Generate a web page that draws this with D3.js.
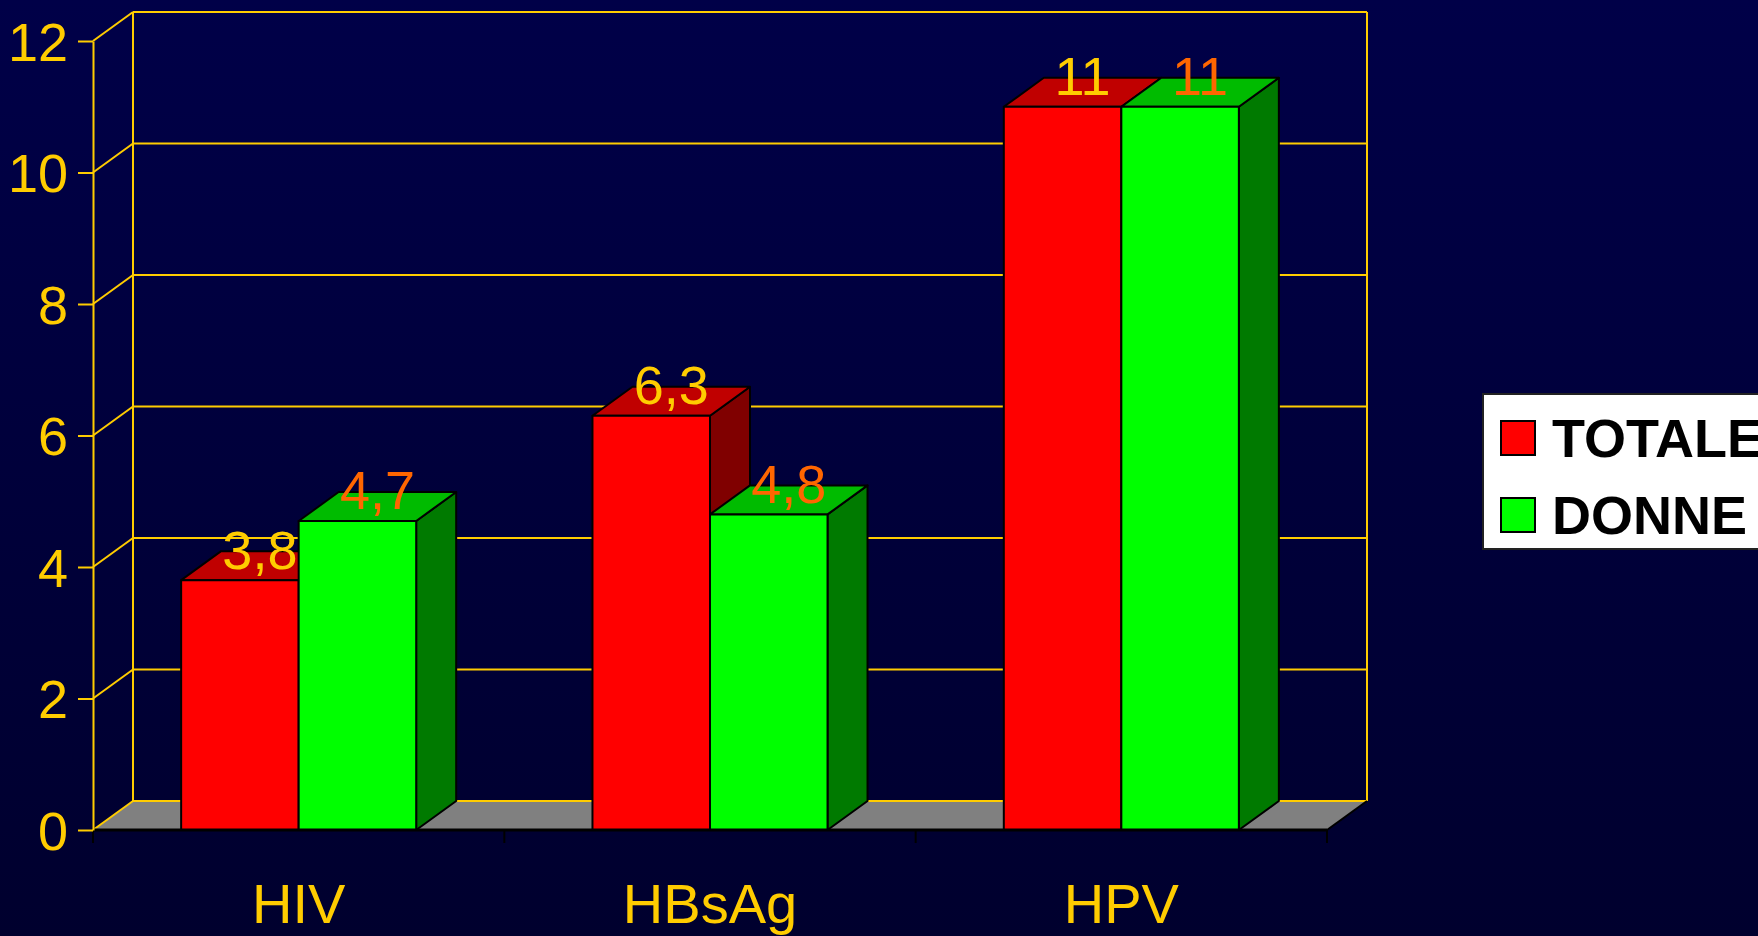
<!DOCTYPE html>
<html>
<head>
<meta charset="utf-8">
<script src="https://cdn.jsdelivr.net/npm/d3@7"></script>
<style>
  html, body { margin: 0; padding: 0; background: #000038; overflow: hidden; }
  svg { display: block; }
</style>
</head>
<body>
<div id="chart"></div>
<script>
// ---- data ----
const categories = ["HIV", "HBsAg", "HPV"];
const seriesNames = ["TOTALE", "DONNE"];
const totaleValues = [3.8, 6.3, 11];
const donneValues = [4.7, 4.8, 11];
const tickValues = [0, 2, 4, 6, 8, 10, 12];

// ---- layout ----
const W = 1758, H = 936;
const DX = 40, DY = 29;           // 3D depth offset
const plotLeft = 93, plotRight = 1327;
const yBottom = 830, yTop = 41;

const seriesValues = [totaleValues, donneValues];
const frontColors = ["#FF0000", "#00FF00"];
const topColors = ["#C00000", "#00BB00"];
const sideColors = ["#800000", "#007A00"];
const labelColors = ["#FFCC00", "#FF6600"];
const gold = "#FFCC00";
const labelFont = "'Liberation Sans', Arial, sans-serif";

const itLocale = d3.formatLocale({decimal: ",", thousands: ".", grouping: [3], currency: ["", "€"]});
const fmt = itLocale.format(".2~r");

const svg = d3.select("#chart").append("svg").attr("width", W).attr("height", H);

const defs = svg.append("defs");
const grad = defs.append("linearGradient").attr("id", "bg").attr("x1", 0).attr("y1", 0).attr("x2", 0).attr("y2", 1);
grad.append("stop").attr("offset", "0%").attr("stop-color", "#000048");
grad.append("stop").attr("offset", "100%").attr("stop-color", "#00002E");
svg.append("rect").attr("width", W).attr("height", H).attr("fill", "url(#bg)");

const y = d3.scaleLinear().domain([0, 12]).range([yBottom, yTop]);
const x0 = d3.scaleBand().domain(categories).range([plotLeft, plotRight]).padding(0);
const x1 = d3.scaleBand().domain(seriesNames).range([0, x0.bandwidth()]).paddingInner(0).paddingOuter(0.75);

// ---- floor ----
svg.append("polygon")
  .attr("points", [[plotLeft, y(0)], [plotRight, y(0)], [plotRight + DX, y(0) - DY], [plotLeft + DX, y(0) - DY]].map(p => p.join(",")).join(" "))
  .attr("fill", "#808080");

// ---- back wall grid ----
const grid = svg.append("g").attr("stroke", gold).attr("stroke-width", 2).attr("fill", "none");
grid.selectAll("line.h").data(tickValues).join("line").attr("class", "h")
  .attr("x1", plotLeft + DX).attr("x2", plotRight + DX)
  .attr("y1", d => y(d) - DY).attr("y2", d => y(d) - DY);
grid.selectAll("line.d").data(tickValues).join("line").attr("class", "d")
  .attr("x1", plotLeft).attr("x2", plotLeft + DX)
  .attr("y1", d => y(d)).attr("y2", d => y(d) - DY);
grid.append("line").attr("x1", plotLeft + DX).attr("x2", plotLeft + DX).attr("y1", y(0) - DY).attr("y2", y(12) - DY);
grid.append("line").attr("x1", plotRight + DX).attr("x2", plotRight + DX).attr("y1", y(0) - DY).attr("y2", y(12) - DY);

// floor black edges
svg.append("line").attr("x1", plotRight).attr("y1", y(0)).attr("x2", plotRight + DX).attr("y2", y(0) - DY)
  .attr("stroke", "#000").attr("stroke-width", 2);

// ---- bars ----
const barsG = svg.append("g").attr("stroke", "#000").attr("stroke-width", 2).attr("stroke-linejoin", "round");
categories.forEach((cat, i) => {
  seriesNames.forEach((s, j) => {
    const v = seriesValues[j][i];
    const x = x0(cat) + x1(s), w = x1.bandwidth();
    const yt = y(v), yb = y(0);
    const g = barsG.append("g");
    g.append("polygon").attr("fill", sideColors[j])
      .attr("points", [[x + w, yt], [x + w + DX, yt - DY], [x + w + DX, yb - DY], [x + w, yb]].map(p => p.join(",")).join(" "));
    g.append("polygon").attr("fill", topColors[j])
      .attr("points", [[x, yt], [x + w, yt], [x + w + DX, yt - DY], [x + DX, yt - DY]].map(p => p.join(",")).join(" "));
    g.append("rect").attr("fill", frontColors[j]).attr("x", x).attr("y", yt).attr("width", w).attr("height", yb - yt);
  });
});

// front floor edge + category ticks
svg.append("line").attr("x1", plotLeft).attr("x2", plotRight).attr("y1", y(0)).attr("y2", y(0))
  .attr("stroke", "#000").attr("stroke-width", 3);
const catBounds = categories.map(c => x0(c)).concat([plotRight]);
svg.selectAll("line.ct").data(catBounds).join("line").attr("class", "ct")
  .attr("x1", d => d).attr("x2", d => d).attr("y1", y(0)).attr("y2", y(0) + 13)
  .attr("stroke", "#000").attr("stroke-width", 2);

// ---- y axis ----
const yAxis = d3.axisLeft(y).tickValues(tickValues).tickSize(15).tickSizeOuter(0).tickPadding(10).tickFormat(d3.format("d"));
const ax = svg.append("g").attr("transform", `translate(${plotLeft},0)`).call(yAxis);
ax.select(".domain").attr("stroke", gold).attr("stroke-width", 2);
ax.selectAll(".tick line").attr("stroke", gold).attr("stroke-width", 2);
ax.selectAll(".tick text").attr("fill", gold).attr("font-size", 54).attr("font-family", labelFont).attr("dy", "0.36em");

// ---- value labels ----
categories.forEach((cat, i) => {
  seriesNames.forEach((s, j) => {
    const v = seriesValues[j][i];
    const x = x0(cat) + x1(s) + x1.bandwidth() / 2 + DX / 2;
    svg.append("text").attr("x", x).attr("y", y(v) - DY / 2 + 3)
      .attr("text-anchor", "middle").attr("fill", labelColors[j])
      .attr("font-size", 54).attr("font-family", labelFont).text(fmt(v));
  });
});

// ---- category labels ----
svg.selectAll("text.cat").data(categories).join("text").attr("class", "cat")
  .attr("x", d => x0(d) + x0.bandwidth() / 2).attr("y", 923)
  .attr("text-anchor", "middle").attr("fill", gold)
  .attr("font-size", 56).attr("font-family", labelFont).text(d => d);

// ---- legend ----
const lg = svg.append("g");
lg.append("rect").attr("x", 1483).attr("y", 394).attr("width", 320).attr("height", 155)
  .attr("fill", "#FFFFFF").attr("stroke", "#222").attr("stroke-width", 2);
seriesNames.forEach((s, j) => {
  const yy = 421 + j * 77;
  lg.append("rect").attr("x", 1501).attr("y", yy).attr("width", 34).attr("height", 34)
    .attr("fill", frontColors[j]).attr("stroke", "#000").attr("stroke-width", 2);
  lg.append("text").attr("x", 1552).attr("y", yy + 36).attr("fill", "#000")
    .attr("font-size", 54).attr("font-weight", "bold").attr("font-family", "'Liberation Sans', Arial, sans-serif").text(s);
});
</script>
</body>
</html>
